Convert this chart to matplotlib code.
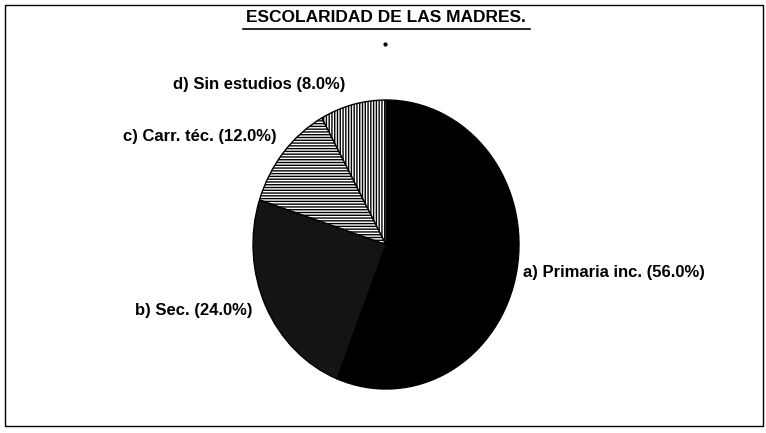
import matplotlib
matplotlib.use("Agg")
import matplotlib.pyplot as plt
from matplotlib.patches import Rectangle
from matplotlib.lines import Line2D

categories = ["a) Primaria inc.", "b) Sec.", "c) Carr. téc.", "d) Sin estudios"]
values = [56.0, 24.0, 12.0, 8.0]
title = "ESCOLARIDAD DE LAS MADRES."

plt.rcParams['font.family'] = ['Liberation Sans', 'DejaVu Sans']
plt.rcParams['hatch.linewidth'] = 1.0

W, H = 766, 433
fig = plt.figure(figsize=(7.66, 4.33), dpi=100)
fig.patch.set_facecolor('white')

ax = fig.add_axes([253 / W, 1 - 389 / H, 266 / W, 289 / H])
colors = ['#000000', '#141414', 'white', 'white']
hatches = [None, None, '------', '||||||']
wedges, _ = ax.pie(values, startangle=90, counterclock=False, colors=colors,
                   wedgeprops=dict(edgecolor='black', linewidth=1.0))
for w, h in zip(wedges, hatches):
    if h:
        w.set_hatch(h)
ax.set_aspect('auto')
ax.set_xlim(-1, 1)
ax.set_ylim(-1, 1)
ax.axis('off')

# labels
label_pos = [(523, 273, 'left'), (135, 310, 'left'), (277, 136, 'right'), (345, 85, 'right')]
for cat, v, (x, y, ha) in zip(categories, values, label_pos):
    fig.text(x / W, 1 - y / H, f"{cat} ({v:.1f}%)", ha=ha, va='center',
             fontsize=12, fontweight='bold')

# title
fig.text(386 / W, 1 - 17 / H, title, ha='center', va='center',
         fontsize=12.5, fontweight='bold')
fig.add_artist(Line2D([243 / W, 530 / W], [1 - 29 / H, 1 - 29 / H],
                      color='black', linewidth=1.2, transform=fig.transFigure))
# small stray dot below title
fig.add_artist(Line2D([385 / W], [1 - 44 / H], marker='o', markersize=2,
                      color='black', linestyle='none', transform=fig.transFigure))

# frame
fig.add_artist(Rectangle((5 / W, 1 - 426 / H), (763 - 5) / W, (426 - 5) / H,
                         fill=False, edgecolor='black', linewidth=1.0,
                         transform=fig.transFigure))

fig.savefig("out.png", dpi=100)
